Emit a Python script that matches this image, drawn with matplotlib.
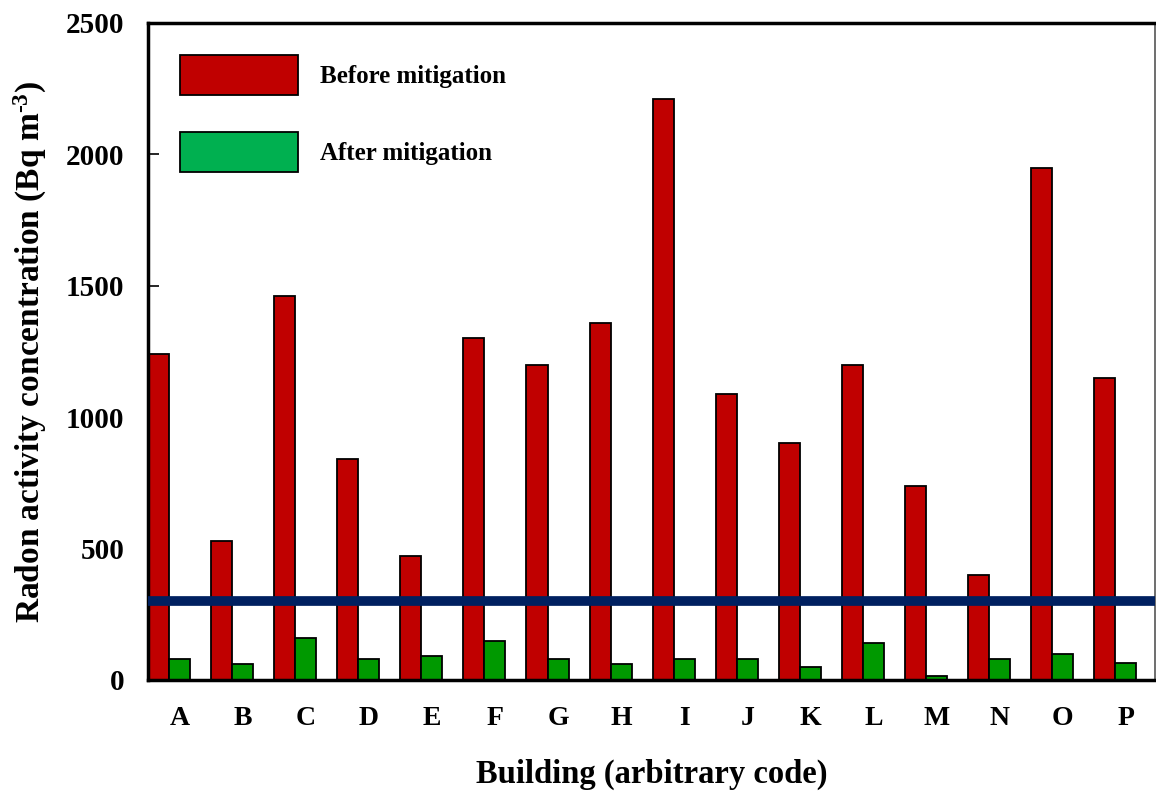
import numpy as np
import matplotlib
matplotlib.use('Agg')
import matplotlib.pyplot as plt
from matplotlib.patches import Patch

# Data
buildings = ['A', 'B', 'C', 'D', 'E', 'F', 'G', 'H', 'I', 'J', 'K', 'L', 'M', 'N', 'O', 'P']
before = [1240, 530, 1460, 840, 470, 1300, 1200, 1360, 2210, 1090, 900, 1200, 740, 400, 1950, 1150]
after = [80, 60, 160, 80, 90, 150, 80, 60, 80, 80, 50, 140, 15, 80, 100, 65]
reference_level = 300

plt.rcParams['font.family'] = ['Liberation Serif', 'DejaVu Serif']
plt.rcParams['font.weight'] = 'bold'
plt.rcParams['mathtext.fontset'] = 'custom'
plt.rcParams['mathtext.rm'] = 'Liberation Serif:bold'
plt.rcParams['mathtext.it'] = 'Liberation Serif:bold'
plt.rcParams['mathtext.bf'] = 'Liberation Serif:bold'

fig = plt.figure(figsize=(11.56, 7.92), dpi=100)
ax = fig.add_axes([148 / 1156, 1 - 680 / 792, 1 - 148 / 1156 - 0.0005, (680 - 23) / 792])

x = np.arange(len(buildings))
w = 1 / 3
ax.bar(x - w, before, width=w, color='#c00000', edgecolor='black', linewidth=1.3, zorder=2)
ax.bar(x, after, width=w, color='#009900', edgecolor='black', linewidth=1.3, zorder=2)
ax.axhline(reference_level, color='#002060', linewidth=7, zorder=3)

ax.set_xlim(-0.5, 15.47)
ax.set_ylim(0, 2500)
ax.set_yticks([0, 500, 1000, 1500, 2000, 2500])
ax.set_xticks(x)
ax.set_xticklabels(buildings)
ax.tick_params(axis='y', direction='in', length=8, width=1.2, labelsize=21, pad=17)
ax.tick_params(axis='x', length=0, labelsize=20, pad=19)

for s in ['left', 'top', 'bottom']:
    ax.spines[s].set_linewidth(2.5)
ax.spines['right'].set_linewidth(1.2)
ax.spines['right'].set_color('#555555')

ax.set_ylabel('Radon activity concentration (Bq m$^{\\text{-3}}$)', fontsize=24,
              fontweight='bold', labelpad=12)
ax.set_xlabel('Building (arbitrary code)', fontsize=23.5, fontweight='bold', labelpad=20)

# legend patches (no frame)
handles = [Patch(facecolor='#c00000', edgecolor='black', linewidth=1.3),
           Patch(facecolor='#00b050', edgecolor='black', linewidth=1.3)]
ax.legend(handles, ['Before mitigation', 'After mitigation'], loc='upper left',
          bbox_to_anchor=(32 / 1007, 1 - 32 / 657), frameon=False,
          borderpad=0, borderaxespad=0,
          handlelength=4.72, handleheight=2.06, handletextpad=0.88, labelspacing=1.5,
          prop={'weight': 'bold', 'size': 18})

fig.savefig('out.png', dpi=100)
